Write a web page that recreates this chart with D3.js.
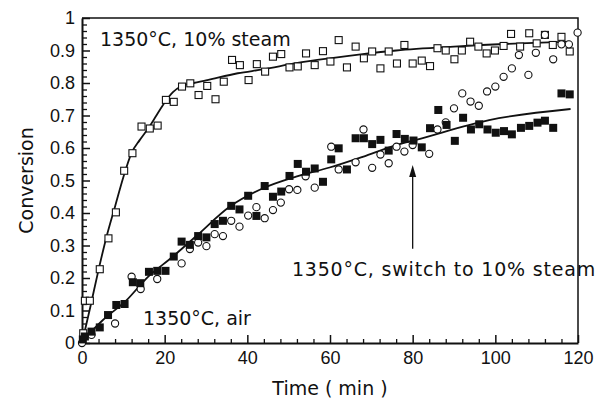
<!DOCTYPE html>
<html>
<head>
<meta charset="utf-8">
<script src="https://cdn.jsdelivr.net/npm/d3@7"></script>
<style>
  html, body { margin: 0; padding: 0; background: #fff; }
  svg { display: block; }
  .tick text { font-family: "Liberation Sans", Arial, sans-serif; font-size: 18px; fill: #111; }
  .lbl { font-family: "DejaVu Sans", sans-serif; font-size: 19px; fill: #111; }
</style>
</head>
<body>
<svg id="chart" width="598" height="402"></svg>
<script>
// Conversion vs time at 1350 °C: steam, air, and air switched to steam
const steamT = [0.3,0.7,1.9,4.3,6.4,8.2,10.2,12.2,14.4,16.4,18.3,20.3,22.2,24.2,26.2,28.2,30.3,32.3,34.3,36.3,38.2,40.3,42.3,44.3,46.2,48.2,50.2,52.2,54.2,56.3,58.3,60.1,62.1,64.1,66.2,68.2,70.2,72.2,74.2,76.2,78,80,82.2,84.2,86,88,90.1,91.9,93.9,95.9,97.9,99.9,102,103.8,106,108.2,110,112,113.9,116,118];
const steamX = [0.03,0.13,0.13,0.227,0.322,0.402,0.53,0.584,0.666,0.66,0.669,0.748,0.742,0.789,0.799,0.763,0.791,0.75,0.804,0.871,0.855,0.809,0.858,0.835,0.881,0.889,0.848,0.851,0.891,0.855,0.898,0.866,0.932,0.848,0.912,0.876,0.897,0.845,0.897,0.86,0.917,0.86,0.869,0.852,0.907,0.9,0.873,0.9,0.927,0.912,0.891,0.9,0.914,0.951,0.912,0.953,0.922,0.948,0.917,0.942,0.897];

const airT = [0.2,0.7,2.3,4.3,6.3,8.3,10.3,12.3,14.1,16.2,18.2,20.2,22.2,24.1,26.1,28.1,30.1,32.1,34.1,36.1,38.1,40.2,42.2,44.2,46.2,48.2,50.2,52.2,54.2,56.3,58.3,60.3,62.1,64.1,66.2,68.2,70.2,72.2,74.2,76.1,78.1,80.2,82.2,84.2,86.2,88.2,90.2,92.2,94.1,96.1,98.1,100.1,102.1,104,106.2,108.2,110.2,112,114,116,118];
const airX = [0.011,0.02,0.035,0.048,0.086,0.117,0.12,0.187,0.184,0.219,0.222,0.222,0.266,0.312,0.302,0.329,0.325,0.366,0.376,0.422,0.411,0.453,0.391,0.483,0.45,0.466,0.514,0.551,0.527,0.537,0.496,0.565,0.599,0.534,0.63,0.63,0.612,0.625,0.592,0.643,0.628,0.623,0.602,0.661,0.717,0.671,0.622,0.693,0.657,0.673,0.657,0.647,0.652,0.642,0.662,0.668,0.678,0.684,0.662,0.768,0.765];

const switchT = [0,2.3,8,12,14.2,18.2,24.1,26.1,28.1,30.1,32.1,34.1,36.1,38.1,40.2,42.2,44.2,46.2,48.1,50.1,52.1,54.1,56.3,60.3,62.1,66.2,68.1,70.2,72.2,74.2,76.1,78,80,84,86,88,90,92,94,96,98,100,102,104,105.7,108,109.8,112,114,116,117.8,119.9];
const switchX = [0,0.025,0.06,0.204,0.166,0.197,0.245,0.289,0.309,0.298,0.335,0.329,0.376,0.358,0.392,0.418,0.384,0.409,0.432,0.473,0.471,0.513,0.478,0.604,0.534,0.556,0.657,0.539,0.58,0.553,0.604,0.589,0.609,0.582,0.657,0.679,0.722,0.768,0.743,0.73,0.774,0.789,0.819,0.845,0.886,0.825,0.893,0.948,0.873,0.919,0.919,0.955];

// Model curves
const steamFitT = [0,2,4,6,8,10,12,14,16,18,20,22,24,27,30,37.7,43.8,51.8,59.9,67.9,76,90,106,118];
const steamFitX = [0,0.11,0.225,0.33,0.42,0.51,0.585,0.625,0.66,0.7,0.74,0.772,0.79,0.8,0.808,0.83,0.842,0.861,0.876,0.889,0.9,0.912,0.922,0.927];
const airFitT = [0,5,10.8,15.6,22,28,35.7,43.8,51.8,59.9,67.9,76,80.8,98.5,118.2];
const airFitX = [0.005,0.07,0.132,0.199,0.266,0.333,0.419,0.476,0.512,0.54,0.573,0.609,0.625,0.686,0.72];

const xTicks = [0,20,40,60,80,100,120];
const yTicks = [0,0.1,0.2,0.3,0.4,0.5,0.6,0.7,0.8,0.9,1];
const yTickLabels = ["0","0.1","0.2","0.3","0.4","0.5","0.6","0.7","0.8","0.9","1"];

const svg = d3.select("#chart");
const x = d3.scaleLinear().domain([0,120]).range([82,578]);
const y = d3.scaleLinear().domain([0,1]).range([343,18]);
const zip = (a,b) => a.map((v,i) => [v,b[i]]);

// frame (top and right)
svg.append("path")
  .attr("d", `M${x(0)},${y(1)}H${x(120)}V${y(0)}`)
  .attr("fill","none").attr("stroke","#111").attr("stroke-width",1.5);

// minor ticks
const xMinor = d3.range(0,121,4).filter(v => v % 20 !== 0);
svg.append("g").attr("transform",`translate(0,${y(0)})`)
  .call(d3.axisBottom(x).tickValues(xMinor).tickSizeInner(-4).tickSizeOuter(0).tickFormat(""))
  .call(g => g.select(".domain").remove())
  .selectAll("line").attr("stroke","#111").attr("stroke-width",1.3);
const yMinor = d3.range(0,51).map(i => i/50).filter((v,i) => i % 5 !== 0);
svg.append("g").attr("transform",`translate(${x(0)},0)`)
  .call(d3.axisLeft(y).tickValues(yMinor).tickSizeInner(-5).tickSizeOuter(0).tickFormat(""))
  .call(g => g.select(".domain").remove())
  .selectAll("line").attr("stroke","#111").attr("stroke-width",1.3);

// major axes
const xAxis = svg.append("g").attr("transform",`translate(0,${y(0)})`)
  .call(d3.axisBottom(x).tickValues(xTicks).tickSizeInner(-8).tickSizeOuter(0).tickPadding(8).tickFormat(d3.format("d")));
xAxis.select(".domain").attr("stroke","#111").attr("stroke-width",2);
xAxis.selectAll(".tick line").attr("stroke","#111").attr("stroke-width",1.5);

const yAxis = svg.append("g").attr("transform",`translate(${x(0)},0)`)
  .call(d3.axisLeft(y).tickValues(yTicks).tickSizeInner(-8).tickSizeOuter(0).tickPadding(7)
    .tickFormat((d,i) => yTickLabels[i]));
yAxis.select(".domain").attr("stroke","#111").attr("stroke-width",2);
yAxis.selectAll(".tick line").attr("stroke","#111").attr("stroke-width",1.5);

// axis titles
svg.append("text").attr("class","lbl")
  .attr("transform",`translate(33,${(y(0)+y(1))/2}) rotate(-90)`)
  .attr("text-anchor","middle").attr("font-size",18).text("Conversion");
svg.append("text").attr("class","lbl")
  .attr("x",(x(0)+x(120))/2).attr("y",395).attr("text-anchor","middle")
  .attr("font-size",18).text("Time ( min )");

// fitted curves
const line = d3.line().x(d => x(d[0])).y(d => y(d[1])).curve(d3.curveMonotoneX);
svg.append("path").datum(zip(steamFitT,steamFitX)).attr("d",line)
  .attr("fill","none").attr("stroke","#111").attr("stroke-width",1.8);
svg.append("path").datum(zip(airFitT,airFitX)).attr("d",line)
  .attr("fill","none").attr("stroke","#111").attr("stroke-width",1.8);

// markers
const s = 7;
svg.append("g").selectAll("rect").data(zip(steamT,steamX)).join("rect")
  .attr("x",d => x(d[0]) - s/2).attr("y",d => y(d[1]) - s/2)
  .attr("width",s).attr("height",s)
  .attr("fill","#fff").attr("stroke","#111").attr("stroke-width",1.1);
svg.append("g").selectAll("circle").data(zip(switchT,switchX)).join("circle")
  .attr("cx",d => x(d[0])).attr("cy",d => y(d[1])).attr("r",3.6)
  .attr("fill","#fff").attr("stroke","#111").attr("stroke-width",1.1);
svg.append("g").selectAll("rect").data(zip(airT,airX)).join("rect")
  .attr("x",d => x(d[0]) - 4).attr("y",d => y(d[1]) - 4)
  .attr("width",8).attr("height",8).attr("fill","#111");

// arrow
const arrowT = 80, arrowFrom = 0.29, arrowTo = 0.548;
svg.append("line")
  .attr("x1",x(arrowT)).attr("x2",x(arrowT))
  .attr("y1",y(arrowFrom)).attr("y2",y(arrowTo) + 10)
  .attr("stroke","#111").attr("stroke-width",1.3);
svg.append("path")
  .attr("d",`M${x(arrowT)},${y(arrowTo)}l-3.5,12h7z`).attr("fill","#111");

// annotations
svg.append("text").attr("class","lbl").attr("x",100).attr("y",46).text("1350\u00B0C, 10% steam");
svg.append("text").attr("class","lbl").attr("x",143).attr("y",325).text("1350\u00B0C, air");
svg.append("text").attr("class","lbl").attr("x",596).attr("y",276).attr("text-anchor","end")
  .attr("letter-spacing","0.8px").text("1350\u00B0C, switch to 10% steam");
</script>
</body>
</html>
